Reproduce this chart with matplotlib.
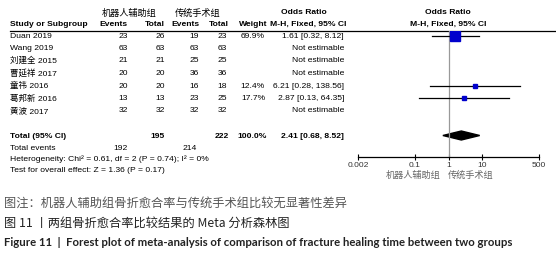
import matplotlib.pyplot as plt
import numpy as np

# study data
studies = ["Duan 2019", "Wang 2019", "刘建全 2015", "曹延祥 2017", "童祎 2016", "葛邦新 2016", "黄波 2017"]
events_robot = [23, 63, 21, 20, 20, 13, 32]
total_robot = [26, 63, 21, 20, 20, 13, 32]
events_trad = [19, 63, 25, 36, 16, 23, 32]
total_trad = [23, 63, 25, 36, 18, 25, 32]
weights = [69.9, np.nan, np.nan, np.nan, 12.4, 17.7, np.nan]
odds = [1.61, np.nan, np.nan, np.nan, 6.21, 2.87, np.nan]
ci_low = [0.32, np.nan, np.nan, np.nan, 0.28, 0.13, np.nan]
ci_high = [8.12, np.nan, np.nan, np.nan, 138.56, 64.35, np.nan]

pooled = [2.41, 0.68, 8.52]
pooled_totals = [195, 222]
pooled_events = [192, 214]
xticks = [0.002, 0.1, 1, 10, 500]
xticklabels = ["0.002", "0.1", "1", "10", "500"]

W, H = 556, 258
FS = 6.1
FS_CJK = 6.6
txtfont = ["Liberation Sans", "Noto Sans CJK SC"]
cjk = ["Noto Sans CJK SC", "DejaVu Sans"]

fig = plt.figure(figsize=(W / 100, H / 100), dpi=100)
bg = fig.add_axes([0, 0, 1, 1])
bg.set_xlim(0, W)
bg.set_ylim(H, 0)
bg.axis("off")


def t(x, y, s, ha="left", bold=False, **kw):
    bg.text(x, y, s, ha=ha, va="center", fontsize=kw.pop("fontsize", FS),
            fontweight="bold" if bold else "normal",
            family=kw.pop("family", txtfont), **kw)


# headers
t(129, 13, "机器人辅助组", ha="center", family=cjk, fontsize=FS_CJK)
t(198, 13, "传统手术组", ha="center", family=cjk, fontsize=FS_CJK)
t(304, 13, "Odds Ratio", ha="center", bold=True)
t(448, 13, "Odds Ratio", ha="center", bold=True)
t(10, 24.5, "Study or Subgroup", bold=True)
t(128, 24.5, "Events", ha="right", bold=True)
t(165, 24.5, "Total", ha="right", bold=True)
t(199, 24.5, "Events", ha="right", bold=True)
t(229, 24.5, "Total", ha="right", bold=True)
t(267, 24.5, "Weight", ha="right", bold=True)
t(308, 24.5, "M-H, Fixed, 95% CI", ha="center", bold=True)
t(448, 24.5, "M-H, Fixed, 95% CI", ha="center", bold=True)
bg.plot([10, W], [31, 31], color="black", lw=0.9)

row_y = 36 + 12.5 * np.arange(len(studies))
for i, y in enumerate(row_y):
    t(10, y, studies[i])
    t(128, y, str(events_robot[i]), ha="right")
    t(165, y, str(total_robot[i]), ha="right")
    t(199, y, str(events_trad[i]), ha="right")
    t(227, y, str(total_trad[i]), ha="right")
    if np.isnan(odds[i]):
        t(344, y, "Not estimable", ha="right")
    else:
        t(265, y, f"{weights[i]:.1f}%", ha="right")
        t(344, y, f"{odds[i]:.2f} [{ci_low[i]:.2f}, {ci_high[i]:.2f}]", ha="right")

ytot = 136.5
t(10, ytot, "Total (95% CI)", bold=True)
t(165, ytot, str(pooled_totals[0]), ha="right", bold=True)
t(229, ytot, str(pooled_totals[1]), ha="right", bold=True)
t(267, ytot, "100.0%", ha="right", bold=True)
t(344, ytot, f"{pooled[0]:.2f} [{pooled[1]:.2f}, {pooled[2]:.2f}]", ha="right", bold=True)
t(10, 148, "Total events")
t(128, 148, str(pooled_events[0]), ha="right")
t(197, 148, str(pooled_events[1]), ha="right")
t(10, 159, "Heterogeneity: Chi² = 0.61, df = 2 (P = 0.74); I² = 0%")
t(10, 170, "Test for overall effect: Z = 1.36 (P = 0.17)")

# forest panel
x0, x1, ytop, ybot = 358, 539, 31, 157
ax = fig.add_axes([x0 / W, 1 - ybot / H, (x1 - x0) / W, (ybot - ytop) / H])
ax.set_xscale("log")
ax.set_xlim(0.002, 500)
ax.set_ylim(ybot, ytop)
ax.patch.set_alpha(0)
for s in ["top", "left", "right"]:
    ax.spines[s].set_visible(False)
ax.spines["bottom"].set_linewidth(0.9)
ax.set_yticks([])
ax.set_xticks(xticks)
ax.set_xticklabels(xticklabels, fontsize=FS, family=txtfont, color="#333333")
ax.minorticks_off()
ax.tick_params(axis="x", direction="inout", length=5, width=0.8, pad=1)
ax.axvline(1, color="#999999", lw=0.9)

for i, y in enumerate(row_y):
    if np.isnan(odds[i]):
        continue
    ax.plot([ci_low[i], ci_high[i]], [y, y], color="black", lw=0.9)
    ms = 6.5 * np.sqrt(weights[i] / 69.9)
    ax.plot(odds[i], y, marker="s", ms=ms, color="#0000CC", mec="#0000CC")

dy = 4.5
ax.fill([pooled[1], pooled[0], pooled[2], pooled[0]],
        [ytot - 1, ytot - 1 - dy, ytot - 1, ytot - 1 + dy], color="black")

t(440, 175, "机器人辅助组", ha="right", family=cjk, fontsize=FS_CJK, color="#666666")
t(448, 175, "传统手术组", ha="left", family=cjk, fontsize=FS_CJK, color="#666666")

# captions
t(4, 203, "图注：机器人辅助组骨折愈合率与传统手术组比较无显著性差异",
  family=cjk, fontsize=8.8, color="#555555")
t(4, 223, "图 11 丨两组骨折愈合率比较结果的 Meta 分析森林图",
  family=cjk, fontsize=8.8, color="#222222")
t(4, 243, "Figure 11  |  Forest plot of meta-analysis of comparison of fracture healing time between two groups",
  family=["Lato", "DejaVu Sans"], fontsize=8.2, bold=True, color="#222222")

fig.savefig("out.png", dpi=100)
